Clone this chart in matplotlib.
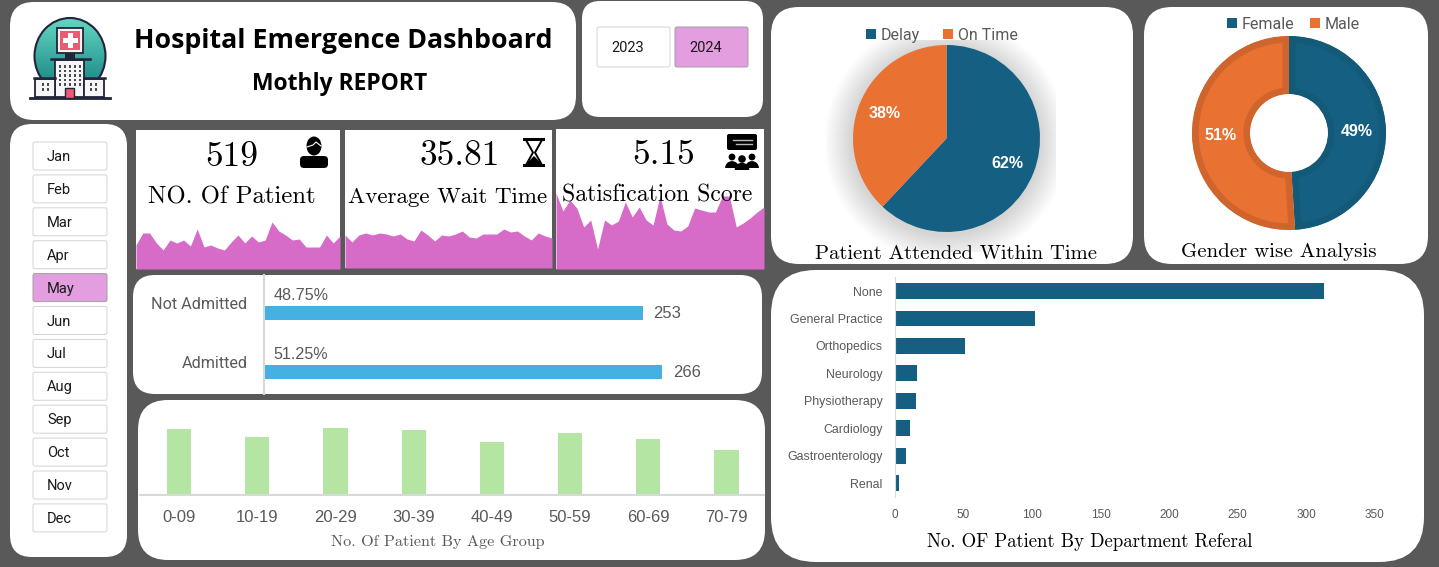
import numpy as np
import matplotlib
matplotlib.use("Agg")
import matplotlib.pyplot as plt
from matplotlib.patches import FancyBboxPatch, Rectangle, Ellipse, Circle, Polygon, Wedge

W, H = 1439, 567

# dashboard values
years = ["2023", "2024"]
months = ["Jan", "Feb", "Mar", "Apr", "May", "Jun", "Jul", "Aug", "Sep", "Oct", "Nov", "Dec"]
kpi_values = ["519", "35.81", "5.15"]
kpi_names = ["NO. Of Patient", "Average Wait Time", "Satisfication Score"]

patients_daily = [24, 36, 36, 26, 19, 29, 26, 29, 23, 40, 22, 24, 21, 19, 27, 34,
                  26, 33, 27, 29, 47, 38, 34, 29, 30, 22, 22, 22, 34, 26, 33]
wait_daily = [33, 26, 33, 35, 33, 35, 34, 32, 34, 29, 27, 38, 33, 27, 33, 32,
              34, 37, 31, 30, 34, 34, 34, 39, 36, 37, 32, 28, 35, 32, 30]
score_daily = [76, 58, 69, 61, 42, 49, 20, 49, 44, 48, 67, 52, 62, 49, 44, 73,
               45, 39, 38, 43, 61, 59, 57, 57, 73, 73, 42, 46, 51, 57, 62]

admit_labels = ["Not Admitted", "Admitted"]
admit_counts = [253, 266]
admit_pct = ["48.75%", "51.25%"]

age_groups = ["0-09", "10-19", "20-29", "30-39", "40-49", "50-59", "60-69", "70-79"]
age_counts = [72, 64, 74, 71, 58, 68, 62, 50]

time_labels = ["Delay", "On Time"]
time_share = [62, 38]
gender_labels = ["Female", "Male"]
gender_share = [49, 51]

departments = ["None", "General Practice", "Orthopedics", "Neurology", "Physiotherapy",
               "Cardiology", "Gastroenterology", "Renal"]
dept_counts = [313, 102, 51, 16, 15, 11, 8, 3]

BG = "#595959"
BLUE = "#156082"
ORANGE = "#E97132"
PINK = "#E39EDF"
AREA = "#D66BC8"
GREY = "#595959"
NARROW = "Roboto"
SERIF = "cmr10"
ARIAL = "Liberation Sans"

fig = plt.figure(figsize=(W / 100, H / 100), dpi=100, facecolor=BG)
bg = fig.add_axes([0, 0, 1, 1])
bg.set_xlim(0, W)
bg.set_ylim(H, 0)
bg.axis("off")

# overlay for labels that sit on top of the pies
top = fig.add_axes([0, 0, 1, 1], zorder=10)
top.set_xlim(0, W)
top.set_ylim(H, 0)
top.axis("off")
top.patch.set_alpha(0)


def px_axes(x0, y0, x1, y1):
    ax = fig.add_axes([x0 / W, 1 - y1 / H, (x1 - x0) / W, (y1 - y0) / H])
    ax.patch.set_alpha(0)
    return ax


def panel(x0, y0, x1, y1, r):
    bg.add_patch(FancyBboxPatch((x0 + r, y0 + r), x1 - x0 - 2 * r, y1 - y0 - 2 * r,
                                boxstyle=f"round,pad={r},rounding_size={r}",
                                fc="white", ec="none"))


def button(x0, y0, x1, y1, label, selected, tx):
    bg.add_patch(FancyBboxPatch((x0 + 2, y0 + 2), x1 - x0 - 4, y1 - y0 - 4,
                                boxstyle="round,pad=2,rounding_size=2",
                                fc=PINK if selected else "white",
                                ec="#a0a0a0" if selected else "#d4d4d4", lw=0.7))
    bg.text(tx, (y0 + y1) / 2 + 1, label, family=NARROW, fontsize=10.5, color="#1a1a1a",
            ha="left", va="center")


def legend_item(x, y, label, color):
    bg.add_patch(Rectangle((x, y - 5), 10, 10, fc=color, ec="none"))
    bg.text(x + 15, y, label, family=NARROW, fontsize=11.5, color=GREY, ha="left", va="center_baseline")


def draw_hospital():
    grad = np.linspace(0, 1, 64).reshape(-1, 1)
    cmap = matplotlib.colors.LinearSegmentedColormap.from_list("t", ["#63D6C2", "#15807F"])
    im = bg.imshow(grad, extent=(32, 106, 92, 18), cmap=cmap, aspect="auto", zorder=2)
    clip = Ellipse((70, 56), 71, 76, transform=bg.transData)
    im.set_clip_path(clip)
    bg.add_patch(Ellipse((70, 56), 71, 76, fc="none", ec="#23233a", lw=1.5, zorder=3))
    # sign
    bg.add_patch(Rectangle((57, 28), 26, 25, fc="#F4F4F4", ec="#23233a", lw=1.3, zorder=4))
    bg.add_patch(Rectangle((60, 31), 20, 19, fc="#EE5A72", ec="none", zorder=5))
    bg.add_patch(Rectangle((67.5, 33), 5, 15, fc="white", ec="none", zorder=6))
    bg.add_patch(Rectangle((62.5, 38), 15, 5, fc="white", ec="none", zorder=6))
    bg.add_patch(Rectangle((65, 53), 10, 6, fc="#23233a", ec="none", zorder=4))
    # building
    bg.add_patch(Rectangle((55, 60), 29, 37, fc="#F6F6F6", ec="#23233a", lw=1.3, zorder=4))
    bg.add_patch(Rectangle((35, 79), 20, 18, fc="#F6F6F6", ec="#23233a", lw=1.3, zorder=4))
    bg.add_patch(Rectangle((84, 79), 20, 18, fc="#F6F6F6", ec="#23233a", lw=1.3, zorder=4))
    bg.plot([51, 90], [59, 59], color="#23233a", lw=1.8, zorder=5)
    bg.plot([34, 55], [78, 78], color="#23233a", lw=1.8, zorder=5)
    bg.plot([84, 105], [78, 78], color="#23233a", lw=1.8, zorder=5)
    bg.plot([30, 110], [98, 98], color="#23233a", lw=2, zorder=6)
    for row in range(5):
        for col in range(5):
            bg.add_patch(Rectangle((58.5 + col * 5, 65 + row * 4.6), 2.2, 2.6, fc="#4a4a5a", ec="none", zorder=5))
    for cx in (42, 90):
        for row in range(2):
            for col in range(2):
                bg.add_patch(Rectangle((cx + col * 4.5, 83 + row * 5), 2, 2.6, fc="#4a4a5a", ec="none", zorder=5))
    bg.add_patch(Rectangle((65, 88), 9, 10, fc="#EE5A72", ec="#23233a", lw=1, zorder=6))


def draw_person(cx):
    bg.add_patch(Ellipse((cx, 146), 15, 19, fc="black", zorder=5))
    bg.plot([cx - 7, cx - 1, cx + 2, cx + 7], [147, 145, 142, 146], color="white", lw=0.8, zorder=6)
    bg.add_patch(FancyBboxPatch((cx - 10, 160), 20, 4, boxstyle="round,pad=4,rounding_size=4",
                                fc="black", ec="none", zorder=5))


def draw_hourglass(cx, y0, y1):
    bg.add_patch(Rectangle((cx - 11, y0), 22, 3, fc="black", zorder=5))
    bg.add_patch(Rectangle((cx - 11, y1 - 3), 22, 3, fc="black", zorder=5))
    bg.plot([cx - 8, cx - 1, cx - 8], [y0 + 2, (y0 + y1) / 2, y1 - 2], color="black", lw=1.4, zorder=5)
    bg.plot([cx + 8, cx + 1, cx + 8], [y0 + 2, (y0 + y1) / 2, y1 - 2], color="black", lw=1.4, zorder=5)
    bg.add_patch(Polygon([(cx - 9, y1 - 2), (cx, y1 - 11), (cx + 9, y1 - 2)], fc="black", zorder=5))


def draw_chat(cx, y0):
    bg.add_patch(FancyBboxPatch((cx - 13, y0 + 2), 26, 12, boxstyle="round,pad=2,rounding_size=2",
                                fc="black", ec="none", zorder=5))
    bg.plot([cx - 9, cx + 10], [y0 + 6, y0 + 6], color="#bbbbbb", lw=1, zorder=6)
    bg.plot([cx - 6, cx + 10], [y0 + 10, y0 + 10], color="#bbbbbb", lw=1, zorder=6)
    for dx, dy, r in [(-10, 23, 3.4), (10, 23, 3.4), (0, 25, 3.8)]:
        bg.add_patch(Circle((cx + dx, y0 + dy), r, fc="black", zorder=5))
        bg.add_patch(Wedge((cx + dx, y0 + dy + 11), r + 3.5, 180, 360, fc="black", zorder=5))


# panels
panel(10, 2, 576, 120, 24)
panel(582, 1, 763, 117, 18)
panel(10, 124, 127, 557, 22)
panel(133, 275, 762, 394, 22)
panel(138, 400, 765, 560, 30)
panel(771, 7, 1133, 264, 28)
panel(1144, 7, 1428, 264, 28)
panel(771, 270, 1424, 562, 45)

# header
draw_hospital()
bg.text(343, 41, "Hospital Emergence Dashboard", family="Open Sans", weight="bold", fontsize=19.3,
        ha="center", va="center", color="black")
bg.text(340, 84, "Mothly REPORT", family="Open Sans", weight="bold", fontsize=16.5,
        ha="center", va="center", color="black")

# slicers
button(597, 27, 670, 67, years[0], False, 611)
button(675, 27, 748, 67, years[1], True, 689)
for i, m in enumerate(months):
    row_top = 142 + i * 32.9
    button(33, row_top, 107, row_top + 28, m, m == "May", 47)

# kpi cards
kpi_boxes = [(136, 130, 340, 269), (345, 130, 552, 268), (556, 129, 764, 269)]
kpi_series = [patients_daily, wait_daily, score_daily]
kpi_val_x = [232, 460, 664]
kpi_val_y = [157, 156, 155]
kpi_name_x = [232, 448, 657]
kpi_name_y = [197, 197, 195]
kpi_name_size = [17.8, 16.6, 17.1]
for i, box in enumerate(kpi_boxes):
    x0, y0, x1, y1 = box
    bg.add_patch(Rectangle((x0, y0), x1 - x0, y1 - y0, fc="white", ec="none"))
    ax = px_axes(x0, y0, x1, y1)
    days = np.arange(len(kpi_series[i]))
    ax.fill_between(days, kpi_series[i], 0, color=AREA, lw=0)
    ax.set_xlim(0, len(days) - 1)
    ax.set_ylim(0, y1 - y0)
    ax.axis("off")
    bg.text(kpi_val_x[i], kpi_val_y[i], kpi_values[i], family=SERIF, fontsize=25.5, ha="center", va="center", color="black")
    ax.text((kpi_name_x[i] - x0) / (x1 - x0), 1 - (kpi_name_y[i] - y0) / (y1 - y0), kpi_names[i], family=SERIF,
            fontsize=kpi_name_size[i], ha="center", va="center", color="black", transform=ax.transAxes, zorder=5)

draw_person(314)
draw_hourglass(534, 138, 167)
draw_chat(742, 134)

# admitted bars
ax = px_axes(264, 275, 762, 394)
ax.barh(range(2), admit_counts, height=0.25, color="#45B0E1")
ax.set_xlim(0, 498 / 1.497)
ax.set_ylim(1.373, -0.644)
for s in ["top", "right", "bottom"]:
    ax.spines[s].set_visible(False)
ax.spines["left"].set_color("#D9D9D9")
ax.spines["left"].set_linewidth(1.5)
ax.set_xticks([])
ax.set_yticks([])
for i in range(2):
    ax.text(-11, i - 0.15, admit_labels[i], family=NARROW, fontsize=11.6, color=GREY, va="center", ha="right")
    ax.text(admit_counts[i] + 7, i + 0.01, str(admit_counts[i]), family=ARIAL, fontsize=12, color=GREY, va="center", ha="left")
    ax.text(6.5, i - 0.29, admit_pct[i], family=ARIAL, fontsize=11.6, color=GREY, va="center", ha="left")

# age bars
ax = px_axes(140, 410, 764, 495)
ax.bar(range(len(age_groups)), age_counts, width=0.31, color="#B4E5A2")
ax.set_xlim(-0.5, 7.48)
ax.set_ylim(0, 85 / 0.91)
for s in ["top", "right", "left"]:
    ax.spines[s].set_visible(False)
ax.spines["bottom"].set_color("#D9D9D9")
ax.spines["bottom"].set_linewidth(1.5)
ax.set_yticks([])
ax.set_xticks(range(len(age_groups)))
ax.set_xticklabels(age_groups, family=ARIAL, fontsize=12, color=GREY)
ax.tick_params(axis="x", length=0, pad=11)
bg.text(438, 542, "No. Of Patient By Age Group", family=SERIF, fontsize=11.7, color=GREY, ha="center", va="center")

# pie with soft shadow
for grow in range(28, 0, -2):
    shadow = Circle((946, 141), 93.5 + grow, fc="black", ec="none", alpha=0.01, zorder=1)
    bg.add_patch(shadow)
    shadow.set_clip_path(Rectangle((826, 40), 230, 212, transform=bg.transData))
ax = px_axes(846, 38, 1047, 239)
ax.pie(time_share, colors=[BLUE, ORANGE], startangle=90, counterclock=False, radius=93.5 / 100.5)
ax.set_xlim(-1, 1)
ax.set_ylim(-1, 1)
top.text(1007, 164, f"{time_share[0]}%", family=ARIAL, weight="bold", fontsize=11.5, color="white", ha="center", va="center")
top.text(885, 113, f"{time_share[1]}%", family=ARIAL, weight="bold", fontsize=11.5, color="white", ha="center", va="center")
legend_item(866, 34, time_labels[0], BLUE)
legend_item(943, 34, time_labels[1], ORANGE)
bg.text(956, 254, "Patient Attended Within Time", family=SERIF, fontsize=14.85, color="black", ha="center", va="center")

# donut
ax = px_axes(1189, 33, 1389, 233)
ring, _ = ax.pie(gender_share, colors=[BLUE, ORANGE], startangle=90, counterclock=False, radius=97 / 100,
                 wedgeprops={"width": 58 / 100})
ax.set_xlim(-1, 1)
ax.set_ylim(-1, 1)
for w, edge in zip(ring, ["#135A78", "#CF642C"]):
    w.set_edgecolor(edge)
    w.set_linewidth(9.5)
    w.set_clip_on(True)
    w.set_clip_path(w)
top.text(1357, 132, f"{gender_share[0]}%", family=ARIAL, weight="bold", fontsize=11.5, color="white", ha="center", va="center")
top.text(1221, 136, f"{gender_share[1]}%", family=ARIAL, weight="bold", fontsize=11.5, color="white", ha="center", va="center")
legend_item(1227, 23, gender_labels[0], BLUE)
legend_item(1310, 23, gender_labels[1], ORANGE)
bg.text(1279, 252, "Gender wise Analysis", family=SERIF, fontsize=15, color="black", ha="center", va="center")

# department bars
ax = px_axes(895, 277, 1400, 497)
ax.barh(range(len(departments)), dept_counts, height=0.58, color=BLUE)
ax.set_xlim(0, 505 / 1.371)
ax.set_ylim(7.5, -0.51)
for s in ["top", "right", "bottom"]:
    ax.spines[s].set_visible(False)
ax.spines["left"].set_color("#D9D9D9")
ax.set_yticks(range(len(departments)))
ax.set_yticklabels(departments, family=ARIAL, fontsize=8.9, color=GREY)
ax.set_xticks(range(0, 351, 50))
ax.set_xticklabels([str(v) for v in range(0, 351, 50)], family=ARIAL, fontsize=8.5, color=GREY)
ax.tick_params(axis="both", length=0)
ax.tick_params(axis="y", pad=9)
ax.tick_params(axis="x", pad=9)
bg.text(1090, 542, "No. OF Patient By Department Referal", family=SERIF, fontsize=13.5, color="black", ha="center", va="center")

bg.set_xlim(0, W)
bg.set_ylim(H, 0)
bg.set_aspect("auto")
fig.savefig("out.png", dpi=100, facecolor=BG)
